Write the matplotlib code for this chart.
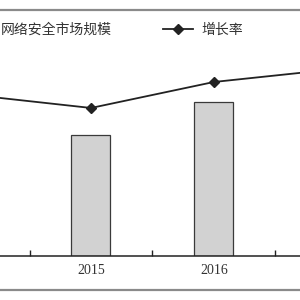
import matplotlib.pyplot as plt
from matplotlib.lines import Line2D

plt.rcParams['font.family'] = ['Noto Sans CJK SC', 'DejaVu Sans']

years = ['2014', '2015', '2016', '2017']
market = [210, 268, 341, 420]          # 网络安全市场规模
growth = [28.6, 26.2, 30.8, 33.1]      # 增长率 (%)

fig = plt.figure(figsize=(3, 3), dpi=100)
ax = fig.add_axes([0, 1 - 256 / 300, 1, 226 / 300])
x = list(range(len(years)))

bars = ax.bar(x, market, width=0.317, color='#d2d2d2', edgecolor='#3a3a3a', linewidth=0.9,
              label='网络安全市场规模')
ax.set_ylim(0, 500)
ax.set_xticks(x)
ax.set_xticklabels(years, family='Liberation Serif', fontsize=10, color='#333333')
ax.set_xticks([i + 0.5 for i in x], minor=True)
ax.tick_params(axis='x', which='major', length=0, pad=6)
ax.tick_params(axis='x', which='minor', direction='in', length=4, width=1, color='#222222')
ax.set_yticks([])
for s in ['left', 'right', 'top']:
    ax.spines[s].set_visible(False)
ax.spines['bottom'].set_linewidth(1.1)
ax.spines['bottom'].set_color('#222222')

ax2 = ax.twinx()
ax2.plot(x, growth, color='#222222', linewidth=1.3, marker='D', markersize=5,
         label='增长率')
ax2.set_ylim(0, 40)
ax2.set_yticks([])
for s in ['left', 'right', 'top', 'bottom']:
    ax2.spines[s].set_visible(False)
ax.set_xlim(0.26, 2.70)

# outer frame lines of the figure
fig.add_artist(Line2D([0, 1], [1 - 10 / 300] * 2, color='#8a8a8a', linewidth=1.6))
fig.add_artist(Line2D([0, 1], [1 - 290 / 300] * 2, color='#8a8a8a', linewidth=1.6))

handles = [bars, ax2.get_lines()[0]]
fig.legend(handles, ['网络安全市场规模', '增长率'], ncol=2, frameon=False, fontsize=10,
           loc='center left', bbox_to_anchor=(-38 / 300, 1 - 30 / 300),
           borderpad=0, borderaxespad=0, handlelength=2.2, handletextpad=0.57,
           columnspacing=3.7, labelcolor='#333333')

plt.savefig('out.png', dpi=100)
